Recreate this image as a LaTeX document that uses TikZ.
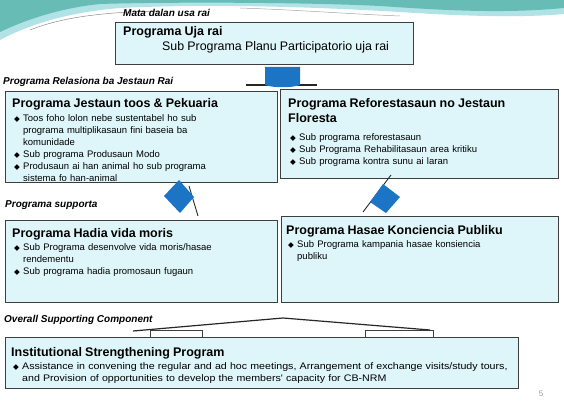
\documentclass[tikz,border=0pt]{standalone}
\usepackage{fontspec}
\setmainfont{Liberation Sans}
\newfontfamily\dejavu{DejaVu Sans}
\newfontfamily\ancho[FakeStretch=1.12]{Liberation Sans}
\usetikzlibrary{positioning, calc}
\definecolor{CajaFondo}{RGB}{222,246,250}
\definecolor{CajaBorde}{RGB}{62,62,62}
\definecolor{FlechaAzul}{RGB}{28,116,196}
\definecolor{OlaVerde}{RGB}{104,188,182}
\definecolor{OlaClaro}{RGB}{176,226,230}
\newcommand{\punto}{\makebox[11pt][l]{\hspace{2pt}{\dejavu\fontsize{7.5}{6}\selectfont ◆}}}
\newcommand{\sangria}{\hspace*{11pt}}
\newcommand{\titulo}{\fontsize{12.5}{14}\selectfont\bfseries}

\begin{document}
\begin{tikzpicture}[x=1pt, y=-1pt,
  caja/.style={rectangle, draw=CajaBorde, line width=0.9pt, fill=CajaFondo, anchor=north west, inner sep=0pt},
  texto/.style={align=left, text width=#1, inner sep=0pt, font=\fontsize{9.5}{12}\selectfont},
  texto/.default=268pt,
  rotulo/.style={anchor=west, inner sep=0pt, font=\fontsize{10}{10}\selectfont\bfseries\itshape},
  flecha/.style={fill=FlechaAzul},
  filo/.style={draw=black!85, line width=1.2pt}]
  \useasboundingbox (0,0) rectangle (564,403);
  % fondo de la diapositiva
  \fill[OlaClaro] (0,0) -- (564,0) -- (564,14) .. controls (520,18) and (460,16) .. (400,12)
    .. controls (300,6) and (200,4) .. (120,8) .. controls (70,12) and (30,24) .. (0,40) -- cycle;
  \fill[OlaVerde] (0,0) -- (564,0) -- (564,8) .. controls (500,14) and (440,10) .. (380,6)
    .. controls (300,2) and (160,2) .. (100,4) .. controls (60,8) and (25,20) .. (0,32) -- cycle;
  \draw[black!45, line width=0.5pt] (30,30) .. controls (60,18) and (100,12) .. (160,11);
  \draw[black!35, line width=0.5pt] (240,8) .. controls (300,10) and (350,14) .. (400,16);

  % Mata dalan
  \node[rotulo] (lblmata) at (123,13) {Mata dalan usa rai};
  \node[caja, minimum width=298pt, minimum height=42pt] (ujarai) at (115,22) {};
  \node[texto=290pt, below right=4pt and 8pt of ujarai.north west, anchor=north west] (txtujarai)
    {{\titulo Programa Uja rai}\\[3pt]
     \hspace*{39pt}{\fontsize{12.4}{13}\selectfont Sub Programa Planu Participatorio uja rai}};
  \draw[filo] (246,85) -- (317,85);
  \fill[flecha] (265,67) -- (300,67) -- (300,85) .. controls (292,88) and (273,88) .. (265,85) -- cycle;

  % Programa relasiona
  \node[rotulo] (lblrelasiona) at (3,82) {Programa Relasiona ba Jestaun Rai};
  \node[caja, minimum width=272pt, minimum height=91pt] (jestaun) at (5,91) {};
  \node[texto, below right=7pt and 7pt of jestaun.north west, anchor=north west] (txtjestaun)
    {{\titulo Programa Jestaun toos \& Pekuaria}\\[2pt]
     \punto Toos foho lolon nebe sustentabel ho sub\\
     \sangria programa multiplikasaun fini baseia ba\\
     \sangria komunidade\\
     \punto Sub programa Produsaun Modo\\
     \punto Produsaun ai han animal ho sub programa\\
     \sangria sistema fo han-animal};
  \node[caja, minimum width=278pt, minimum height=89pt] (floresta) at (280,89) {};
  \node[texto, below right=9pt and 8pt of floresta.north west, anchor=north west] (txtfloresta)
    {{\titulo Programa Reforestasaun no Jestaun}\\[3pt]
     {\titulo Floresta}\\[6pt]
     \punto Sub programa reforestasaun\\
     \punto Sub Programa Rehabilitasaun area kritiku\\
     \punto Sub programa kontra sunu ai laran};

  % Programa supporta
  \node[rotulo] (lblsupporta) at (5,205) {Programa supporta};
  \draw[filo, line width=0.9pt] (189,186) -- (198,216);
  \fill[flecha] (164,196) -- (179,180) -- (194,197) -- (180,213) -- cycle;
  \draw[filo, line width=0.9pt] (391,175) -- (363,212);
  \fill[flecha] (383,184) -- (400,197) -- (386,213) -- (370,202) -- cycle;
  \node[caja, minimum width=272pt, minimum height=82pt] (vidamoris) at (5,220) {};
  \node[texto, below right=8pt and 7pt of vidamoris.north west, anchor=north west] (txtvidamoris)
    {{\titulo Programa Hadia vida moris}\\[1pt]
     \punto Sub Programa desenvolve vida moris/hasae\\
     \sangria rendementu\\
     \punto Sub programa hadia promosaun fugaun};
  \node[caja, minimum width=277pt, minimum height=86pt] (konciencia) at (281,216) {};
  \node[texto, below right=9pt and 5pt of konciencia.north west, anchor=north west] (txtkonciencia)
    {{\titulo Programa Hasae Konciencia Publiku}\\[1pt]
     \punto Sub Programa kampania hasae konsiencia\\
     \sangria publiku};

  % Overall supporting component
  \node[rotulo] (lbloverall) at (4,320) {Overall Supporting Component};
  \node[caja, minimum width=513pt, minimum height=51pt] (institusaun) at (5,337) {};
  \draw[CajaBorde, line width=0.7pt, fill=white] (150,330) rectangle (202,337);
  \draw[CajaBorde, line width=0.7pt, fill=white] (365,330) rectangle (433,337);
  \draw[black!85, line width=1.2pt] (133,331) -- (283,318) -- (430,330);
  \node[texto=545pt, below right=10pt and 6pt of institusaun.north west, anchor=north west] (txtinstitusaun)
    {{\titulo Institutional Strengthening Program}\\[1pt]
     \punto{\ancho Assistance in convening the regular and ad hoc meetings, Arrangement of exchange visits/study tours,}\\
     \sangria{\ancho and Provision of opportunities to develop the members' capacity for CB-NRM}};
  \node[inner sep=0pt, text=black!40, font=\fontsize{8}{8}\selectfont] (pajina) at (541,394) {5};
\end{tikzpicture}
\end{document}
